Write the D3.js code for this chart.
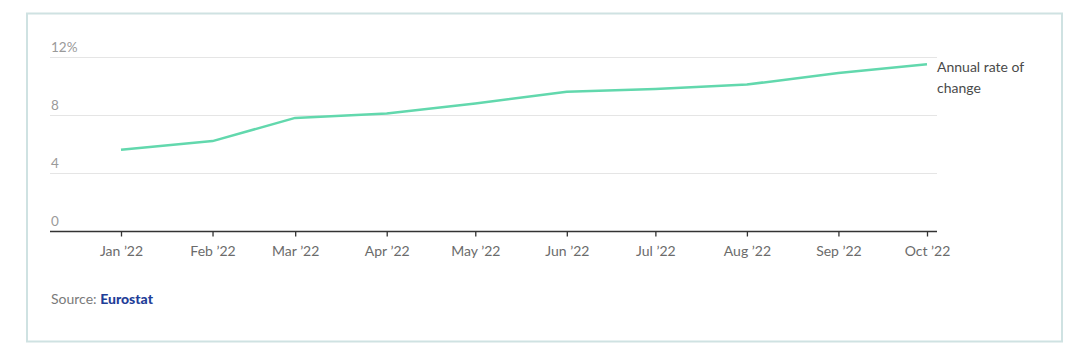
<!DOCTYPE html>
<html>
<head>
<meta charset="utf-8">
<script src="https://cdn.jsdelivr.net/npm/d3@7"></script>
<style>
  html, body { margin: 0; padding: 0; background: #fff; }
  svg { display: block; font-family: "Source Sans Pro", Lato, "Noto Sans", sans-serif; }
</style>
</head>
<body>
<svg id="chart" width="1080" height="357"></svg>
<script>
const months = ["2022-01-01","2022-02-01","2022-03-01","2022-04-01","2022-05-01","2022-06-01","2022-07-01","2022-08-01","2022-09-01","2022-10-01"];
const monthLabels = ["Jan \u201922","Feb \u201922","Mar \u201922","Apr \u201922","May \u201922","Jun \u201922","Jul \u201922","Aug \u201922","Sep \u201922","Oct \u201922"];
const rates = [5.6, 6.2, 7.8, 8.1, 8.8, 9.6, 9.8, 10.1, 10.9, 11.5];
const yTicks = [0, 4, 8, 12];
const seriesName = ["Annual rate of", "change"];
const sourceName = "Eurostat";

const svg = d3.select("#chart");
const parse = d3.timeParse("%Y-%m-%d");
const dates = months.map(parse);

// frame
svg.append("rect").attr("x", 27).attr("y", 13.5).attr("width", 1035).attr("height", 328)
  .attr("fill", "#fff").attr("stroke", "#cfe2e2").attr("stroke-width", 2);

const left = 50, right = 937;
const x = d3.scaleTime().domain([dates[0], dates[dates.length - 1]]).range([121, 927]);
const y = d3.scaleLinear().domain([0, 12]).range([231, 57]);

// gridlines
const g = svg.append("g");
g.selectAll("line.grid").data(yTicks.filter(d => d > 0)).join("line")
  .attr("x1", left).attr("x2", right)
  .attr("y1", d => y(d) + 0.5).attr("y2", d => y(d) + 0.5)
  .attr("stroke", "#e5e5e5").attr("stroke-width", 1);

// y labels
g.selectAll("text.ylab").data(yTicks).join("text")
  .attr("x", left + 1).attr("y", d => y(d) - 5)
  .attr("fill", "#9a9a9a").attr("font-size", 13.5)
  .text(d => d === 12 ? d + "%" : d);

// x axis
const xAxis = d3.axisBottom(x).tickValues(dates).tickSize(5)
  .tickFormat((d, i) => monthLabels[i]);
const ax = svg.append("g").attr("transform", `translate(0,${y(0) + 0.5})`).call(xAxis);
ax.select(".domain").remove();
ax.append("line").attr("x1", left).attr("x2", right).attr("y1", 0).attr("y2", 0)
  .attr("stroke", "#333").attr("stroke-width", 1.3);
ax.selectAll(".tick line").attr("stroke", "#333").attr("stroke-width", 1.3);
ax.selectAll(".tick text").attr("fill", "#6b6b6b").attr("font-size", 14)
  .attr("font-family", "\"Source Sans Pro\", Lato, \"Noto Sans\", sans-serif").attr("dy", "1.2em");

// line
const line = d3.line().x((d, i) => x(dates[i])).y(d => y(d));
svg.append("path").datum(rates).attr("d", line)
  .attr("fill", "none").attr("stroke", "#62d8ad").attr("stroke-width", 2.5)
  .attr("stroke-linejoin", "round");

// series label
const lastY = y(rates[rates.length - 1]);
svg.append("text").attr("x", 937).attr("y", lastY + 8)
  .attr("fill", "#4a4a4a").attr("font-size", 14)
  .selectAll("tspan").data(seriesName).join("tspan")
  .attr("x", 937).attr("dy", (d, i) => i === 0 ? 0 : 21).text(d => d);

// source
const src = svg.append("text").attr("x", 51).attr("y", 304).attr("font-size", 14);
src.append("tspan").attr("fill", "#7a7a7a").text("Source: ");
src.append("tspan").attr("fill", "#1f3e98").attr("font-weight", "900").text(sourceName);
</script>
</body>
</html>
